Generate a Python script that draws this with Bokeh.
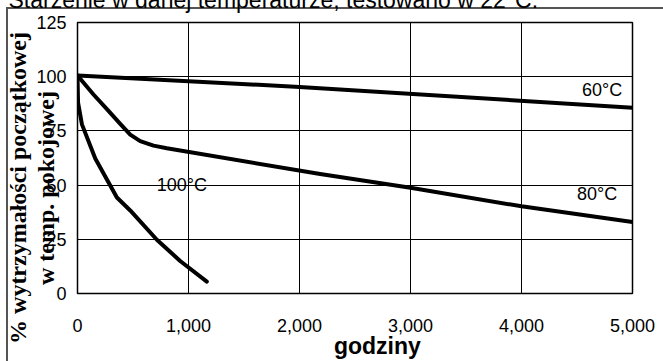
from bokeh.plotting import figure
from bokeh.layouts import column
from bokeh.models import Range1d, FixedTicker, NumeralTickFormatter
from bokeh.core.properties import value
from bokeh.embed import file_html
from bokeh.resources import INLINE

# ---- data ----
hours_60 = [0, 2000, 5000]
strength_60 = [100.5, 95.3, 85.7]

hours_80 = [0, 144, 265, 385, 475, 565, 685, 805, 2186, 3000, 4000, 5000]
strength_80 = [100.5, 91.8, 85.0, 78.2, 73.3, 70.3, 68.2, 67.0, 55.1, 48.8, 40.2, 33.0]

hours_100 = [0, 5, 40, 160, 355, 475, 715, 925, 1165]
strength_100 = [100.5, 88.0, 78.0, 62.3, 44.3, 38.3, 24.8, 15.0, 5.5]

x_ticks = [0, 1000, 2000, 3000, 4000, 5000]
y_ticks = [0, 25, 50, 75, 100, 125]

curve_labels = ["60°C", "80°C", "100°C"]
label_hours = [4907, 4862, 940]
label_strength = [93.8, 45.7, 49.9]
label_align = ["right", "right", "center"]

title_text = "Starzenie w danej temperaturze, testowano w 22°C."
y_title_lines = ["% wytrzymałości początkowej", "w temp. pokojowej"]
x_title = "godziny"

SANS = "Liberation Sans"
SERIF = "Liberation Serif"
NB = "\u00a0"

TOP_CUT = 26                 # part of the picture above the visible window
W, H = 663, 361 + TOP_CUT
FL, FR, FT, FB = 77, 632, 21 + TOP_CUT, 298 + TOP_CUT  # frame edges (canvas px)

p = figure(width=W, height=H, output_backend="svg", toolbar_location=None,
           x_range=Range1d(0, 5000), y_range=Range1d(0, 125),
           min_border_left=FL, min_border_right=W - FR,
           min_border_top=FT, min_border_bottom=H - FB)
p.background_fill_color = "white"
p.border_fill_color = None
p.outline_line_color = "black"
p.outline_line_width = 1.5

# title (only its lower part is inside the window)
p.title.text = title_text
p.title.align = "left"
p.title.offset = 8 - FL
p.title.text_font = SANS
p.title.text_font_size = "23px"
p.title.text_font_style = "normal"
p.title.text_color = "black"
p.title.standoff = 20

for ax in (p.xaxis[0], p.yaxis[0]):
    ax.axis_line_color = None
    ax.major_tick_line_color = None
    ax.minor_tick_line_color = None
    ax.major_label_text_font = SANS
    ax.major_label_text_font_size = "18px"
    ax.major_label_text_color = "black"

xa, ya = p.xaxis[0], p.yaxis[0]
xa.ticker = FixedTicker(ticks=x_ticks)
xa.formatter = NumeralTickFormatter(format="0,0")
xa.major_label_standoff = 19
xa.axis_label = NB * 7 + x_title
xa.axis_label_text_font = SANS
xa.axis_label_text_font_size = "23px"
xa.axis_label_text_font_style = "bold"
xa.axis_label_text_color = "black"
xa.axis_label_standoff = -2

ya.ticker = FixedTicker(ticks=y_ticks)
ya.major_label_standoff = 5
ya.axis_label = "\n".join(line + NB * 10 for line in y_title_lines)
ya.axis_label_text_font = SERIF
ya.axis_label_text_font_size = "24px"
ya.axis_label_text_font_style = "bold"
ya.axis_label_text_color = "black"
ya.axis_label_text_line_height = 1.1
ya.axis_label_standoff = -26

p.xgrid[0].ticker = FixedTicker(ticks=x_ticks)
p.ygrid[0].ticker = FixedTicker(ticks=y_ticks)
for g in (p.xgrid[0], p.ygrid[0]):
    g.grid_line_color = "black"
    g.grid_line_width = 1

lw = 4
p.line(hours_60, strength_60, line_color="black", line_width=lw, line_join="round", line_cap="round")
p.line(hours_80, strength_80, line_color="black", line_width=lw, line_join="round", line_cap="round")
p.line(hours_100, strength_100, line_color="black", line_width=lw, line_join="round", line_cap="round")

for t, hx, sy, al in zip(curve_labels, label_hours, label_strength, label_align):
    p.text(x=[hx], y=[sy], text=[t], text_align=al, text_baseline="middle",
           text_font=value(SANS), text_font_size="18px", text_color="black")

# wrapper carrying the left and top edge of the original picture's frame
page = column(p, width=W, height=H)
page.margin = (-TOP_CUT, 0, 0, 0)
page.styles = {
    "background-color": "white",
    "background-image": "linear-gradient(#555,#555), linear-gradient(#555,#555)",
    "background-size": "2px 100%, 100% 2px",
    "background-position": f"6px {7 + TOP_CUT}px, 6px {7 + TOP_CUT}px",
    "background-repeat": "no-repeat",
}

open("out.html", "w").write(file_html(page, INLINE))
